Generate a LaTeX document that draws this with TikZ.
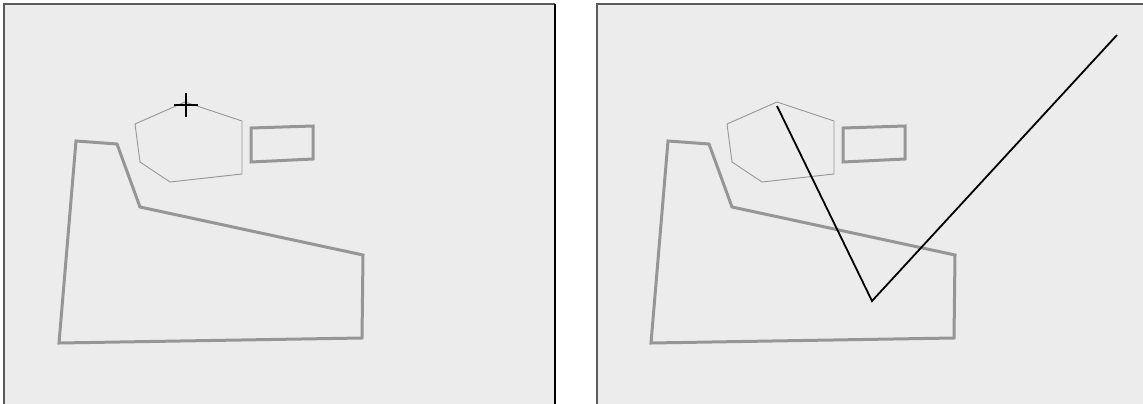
\documentclass[tikz,border=0pt]{standalone}
\usepackage{tikz}
\definecolor{panelbg}{HTML}{ECECEC}
\definecolor{shapegray}{HTML}{969696}
\definecolor{framegray}{HTML}{5A5A5A}
\tikzset{
    panel/.style={fill=panelbg, draw=none},
    thickshape/.style={shapegray, line width=3pt, line join=miter},
    thinshape/.style={shapegray, line width=0.9pt},
    pen/.style={black, line width=1.8pt}
}

\begin{document}
\begin{tikzpicture}[x=1pt, y=-1pt]
    \useasboundingbox (0, 0) rectangle (1143, 404);
    % panel backgrounds and frames
    \fill[panel] (4, 4) rectangle (555, 404);
    \fill[panel] (597, 4) rectangle (1143, 404);
    \draw[framegray, line width=1.5pt] (4, 404) -- (4, 4) -- (555, 4);
    \draw[black, line width=1.5pt] (555, 4) -- (555, 404);
    \draw[framegray, line width=1.5pt] (597, 404) -- (597, 4) -- (1143, 4);
    % same sketch in both panels
    \foreach \dx in {0, 592} {
        \begin{scope}[xshift=\dx pt]
            \draw[thickshape] (76, 141) -- (117, 144) -- (140, 207) -- (363, 255)
                -- (362, 338) -- (59, 343) -- cycle;
            \draw[thinshape] (135, 124) -- (185, 102) -- (242, 121) -- (242, 174)
                -- (170, 182) -- (140, 162) -- cycle;
            \draw[thickshape] (251, 128) -- (313, 126) -- (313, 159) -- (251, 162) -- cycle;
        \end{scope}
    }
    % cursor cross in the left panel
    \coordinate (cursor) at (186, 105);
    \draw[black, line width=1.5pt] ([xshift=-12pt]cursor) -- ([xshift=12pt]cursor);
    \draw[black, line width=1.5pt] ([yshift=-12pt]cursor) -- ([yshift=12pt]cursor);
    % stroke in the right panel
    \coordinate (start) at (777, 106);
    \coordinate (turn) at (872, 301);
    \coordinate (end) at (1117, 35);
    \draw[pen] (start) -- (turn) -- (end);
\end{tikzpicture}
\end{document}
